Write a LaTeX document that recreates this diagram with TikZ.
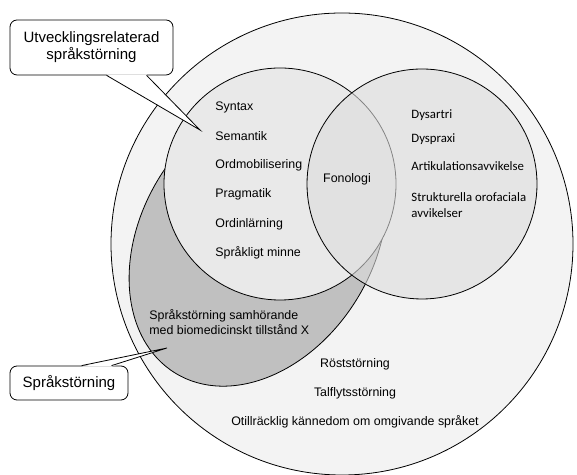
\documentclass[tikz,border=0pt]{standalone}
\usepackage{fontspec}
\setmainfont{Liberation Sans}
\newfontfamily\calibri{Carlito}
\usetikzlibrary{positioning, calc}
\definecolor{outergray}{gray}{0.953}
\definecolor{leftgray}{gray}{0.914}
\definecolor{rightgray}{gray}{0.867}
\definecolor{biogray}{gray}{0.753}

\begin{document}
\begin{tikzpicture}[x=1bp, y=1bp, line width=0.8bp,
  every node/.style={font=\fontsize{12.4bp}{15bp}\selectfont, inner sep=0pt},
  term/.style={anchor=west},
  motor/.style={anchor=west, align=left, font=\calibri\fontsize{12.8bp}{16bp}\selectfont},
  callout/.style={draw, rounded corners=7bp, fill=white, align=center, font=\fontsize{15bp}{17bp}\selectfont}]
\useasboundingbox (0,0) rectangle (577,475);
\draw[fill=outergray] (342,231) circle[radius=231];
\draw[fill=biogray, shift={(258,236.5)}, rotate=58.4] (0,0) ellipse[x radius=158, y radius=116];
\draw[fill=leftgray] (280,291) circle[radius=116];
\draw[fill=rightgray, fill opacity=0.6] (422,291) circle[radius=115];
\node[term] (syntax) at (215,368) {Syntax};
\node[term] (semantik) at (215,339) {Semantik};
\node[term] (ordmob) at (215,310) {Ordmobilisering};
\node[term] (pragmatik) at (215,281) {Pragmatik};
\node[term] (ordinl) at (215,251) {Ordinlärning};
\node[term] (minne) at (215,222) {Språkligt minne};
\node (fonologi) at (347,296) {Fonologi};
\node[motor] (dysartri) at (411,360) {Dysartri};
\node[motor] (dyspraxi) at (411,336) {Dyspraxi};
\node[motor] (artik) at (411,309) {Artikulationsavvikelse};
\node[motor] (orofac) at (411,270) {Strukturella orofaciala\\avvikelser};
\node[term, align=left] (biomed) at (149,152.5) {Språkstörning samhörande\\med biomedicinskt tillstånd X};
\node (rost) at (355,111) {Röststörning};
\node (talflyt) at (355,82) {Talflytsstörning};
\node (sprak) at (355,53) {Otillräcklig kännedom om omgivande språket};
\node[callout, minimum width=163bp, minimum height=55bp] (utv) at (91.5,427.5) {Utvecklingsrelaterad\\språkstörning};
\coordinate (utvtip) at (200,345);
\fill[white] ($(utv.south west)+(97,1)$) -- (utvtip) -- ($(utv.south west)+(137,1)$) -- cycle;
\draw ($(utv.south west)+(97,0)$) -- (utvtip) -- ($(utv.south west)+(137,0)$);
\node[callout, minimum width=118bp, minimum height=34bp] (storning) at (69,92) {Språkstörning};
\coordinate (stotip) at (167,127);
\fill[white] ($(storning.north west)+(72,-1)$) -- (stotip) -- ($(storning.north west)+(102,-1)$) -- cycle;
\draw ($(storning.north west)+(72,0)$) -- (stotip) -- ($(storning.north west)+(102,0)$);
\end{tikzpicture}
\end{document}
